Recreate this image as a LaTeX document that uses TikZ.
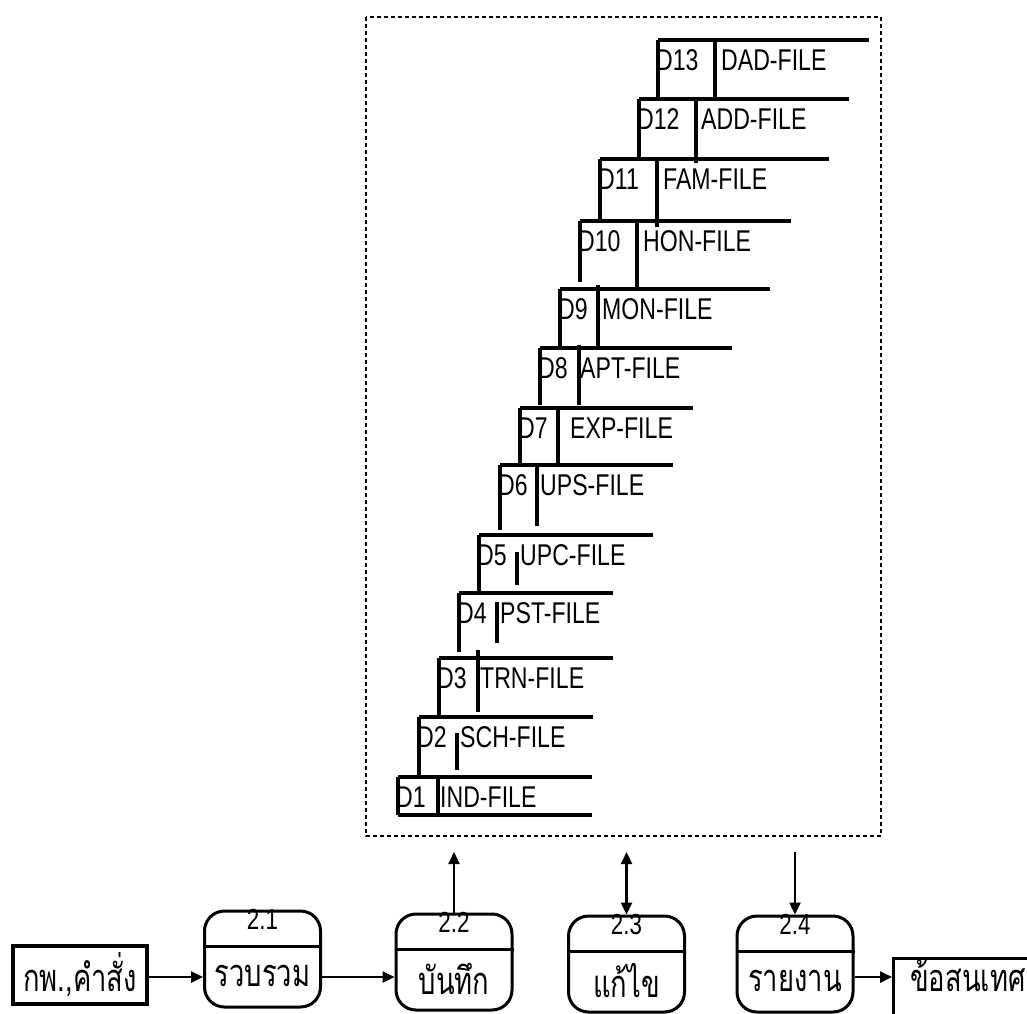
\documentclass[tikz,border=0pt]{standalone}
\usepackage{fontspec}
\setmainfont{Liberation Sans}[FakeStretch=0.77]
\newfontfamily\thaifont[Script=Thai,FakeStretch=0.72]{Loma}
\usetikzlibrary{arrows.meta,calc}
\tikzset{
  storeline/.style={line width=3.4pt, line cap=butt},
  storetxt/.style={anchor=base west, inner sep=0pt, font=\fontsize{30}{30}\selectfont},
  proc/.style={draw, line width=3pt, rounded corners=20pt, minimum width=116pt, minimum height=96pt, inner sep=0pt},
  ent/.style={draw, line width=3.2pt, inner sep=0pt},
  thai/.style={inner sep=0pt, font=\thaifont\fontsize{38}{38}\selectfont},
  numtxt/.style={anchor=base, inner sep=0pt, font=\fontsize{29}{29}\selectfont},
  arr/.style={line width=2.4pt, -{Triangle[length=12pt,width=11pt]}},
  dblarr/.style={line width=2.4pt, {Triangle[length=12pt,width=11pt]}-{Triangle[length=12pt,width=11pt]}},
  dashbox/.style={line width=1.6pt, dash pattern=on 4pt off 3pt}
}
\begin{document}
\begin{tikzpicture}[x=1pt,y=-1pt]
\useasboundingbox (0,0) rectangle (1027,1013);
\fill[white] (0,0) rectangle (1027,1013);

% dashed frame round the data stores
\draw[dashbox] (366,17) rectangle (881,836);

% data stores: num/top/left/div/right/leftbottom/divtop/divbottom/name/offset
\foreach \n/\t/\l/\d/\r/\lb/\dt/\db/\nm/\o in {
 13/40/658/715/869/97/40/100/DAD-FILE/8,
 12/99/639/696/849/159/99/163/ADD-FILE/7,
 11/159/600/657/829/222/159/227/FAM-FILE/8,
 10/221/580/637/791/282/221/287/HON-FILE/8,
 9/289/560/598/770/348/285/347/MON-FILE/6,
 8/348/540/579/732/405/345/405/APT-FILE/3,
 7/408/520/558/693/465/408/463/EXP-FILE/14,
 6/465/500/537/673/530/467/526/UPS-FILE/5,
 5/535/479/517/653/592/552/585/UPC-FILE/5,
 4/593/459/497/613/652/602/643/PST-FILE/5,
 3/658/439/478/613/717/650/712/TRN-FILE/4,
 2/717/419/457/593/777/733/770/SCH-FILE/5,
 1/777/398/438/592/815/777/815/IND-FILE/4}{
  \draw[storeline] (\l,\t) -- (\r,\t);
  \draw[storeline] (\l,\t) -- (\l,\lb);
  \draw[storeline] (\d,\dt) -- (\d,\db);
  \node[storetxt] (sd\n) at ({\l-2},{\t+30}) {D\n};
  \node[storetxt] (sf\n) at ({\d+\o-2},{\t+30}) {\nm};
}
\draw[storeline] (398,815) -- (592,815);

% processes
\node[proc] (p21) at (262.5,959) {};
\node[proc] (p22) at (454,962) {};
\node[proc] (p23) at (626.5,964) {};
\node[proc] (p24) at (795,964) {};
\foreach \p in {p21,p22,p23,p24}{
  \draw[line width=2.6pt] ([yshift=-37pt]\p.north west) -- ([yshift=-37pt]\p.north east);
}
\node[numtxt] (n21) at ([yshift=-20pt]p21.north) {2.1};
\node[numtxt] (n22) at ([yshift=-20pt]p22.north) {2.2};
\node[numtxt] (n23) at ([yshift=-20pt]p23.north) {2.3};
\node[numtxt] (n24) at ([yshift=-20pt]p24.north) {2.4};
\node[thai] (t21) at ([yshift=-66pt]p21.north) {รวบรวม};
\node[thai] (t22) at ([yshift=-66pt]p22.north) {บันทึก};
\node[thai] (t23) at ([yshift=-66pt]p23.north) {แก้ไข};
\node[thai] (t24) at ([yshift=-66pt]p24.north) {รายงาน};

% external entities
\node[ent, minimum width=134pt, minimum height=58pt] (e1) at (80,975) {};
\node[thai] (te1) at (e1.center) {กพ.,คำสั่ง};
\node[ent, minimum width=168pt, minimum height=83pt, anchor=north west] (e2) at (892,957) {};
\node[thai, anchor=base west] (te2) at (910,991) {ข้อสนเทศ};

% connectors
\coordinate (rowy) at (0,977);
\coordinate (tipy) at (0,852);
\draw[arr] (e1.east |- rowy) -- (p21.west |- rowy);
\draw[arr] (p21.east |- rowy) -- (p22.west |- rowy);
\draw[arr] (p24.east |- rowy) -- (e2.west |- rowy);
\draw[arr] (p22.north) -- (p22.north |- tipy);
\draw[dblarr] (p23.north) -- (p23.north |- tipy);
\draw[arr] (p24.north |- tipy) -- (p24.north);
\end{tikzpicture}
\end{document}
